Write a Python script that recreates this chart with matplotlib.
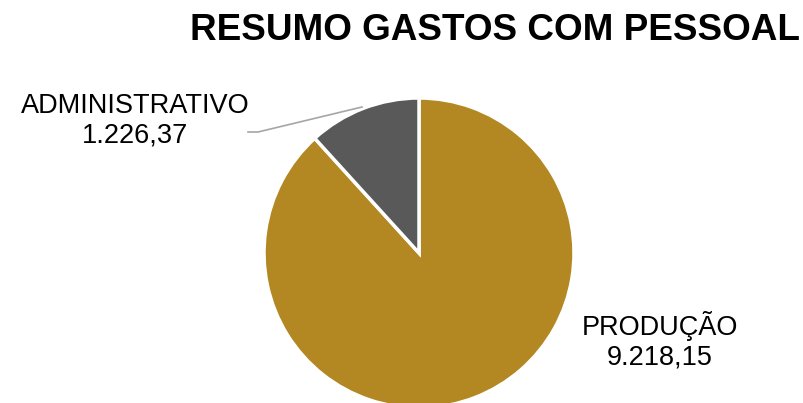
"""
Resumo gastos com pessoal - pie chart
"""
import matplotlib
matplotlib.use('Agg')
from matplotlib import pyplot as plt

categories = ['PRODUÇÃO', 'ADMINISTRATIVO']
values = [9218.15, 1226.37]
value_labels = ['9.218,15', '1.226,37']
colors = ['#B38822', '#595959']

W, H = 804, 403
cx, cy, r = 419, 253, 155

plt.rcParams['font.family'] = ['Liberation Sans', 'DejaVu Sans']

fig = plt.figure(figsize=(W/100, H/100), dpi=100)
ax = fig.add_axes([(cx - r)/W, (H - cy - r)/H, 2*r/W, 2*r/H])
ax.pie(values, colors=colors, startangle=90, counterclock=False,
       wedgeprops=dict(edgecolor='white', linewidth=2.5))
ax.set_xlim(-1, 1)
ax.set_ylim(-1, 1)
ax.set_aspect('equal')
ax.axis('off')

fig.text(800/W, 1 - 31/H, 'RESUMO GASTOS COM PESSOAL', ha='right', va='center',
         fontsize=26.6, fontweight='bold')

# labels
fig.text(135/W, 1 - 121/H, categories[1] + '\n' + value_labels[1],
         ha='center', va='center', fontsize=19.5, linespacing=1.18)
fig.text(660/W, 1 - 341/H, categories[0] + '\n' + value_labels[0],
         ha='center', va='center', fontsize=19.5, linespacing=1.18)

# leader line
fig.add_artist(matplotlib.lines.Line2D([248/W, 258/W, 362/W],
                                       [1 - 132/H, 1 - 132/H, 1 - 107/H],
                                       color='#A6A6A6', linewidth=1.2))

fig.savefig('out.png', dpi=100)
